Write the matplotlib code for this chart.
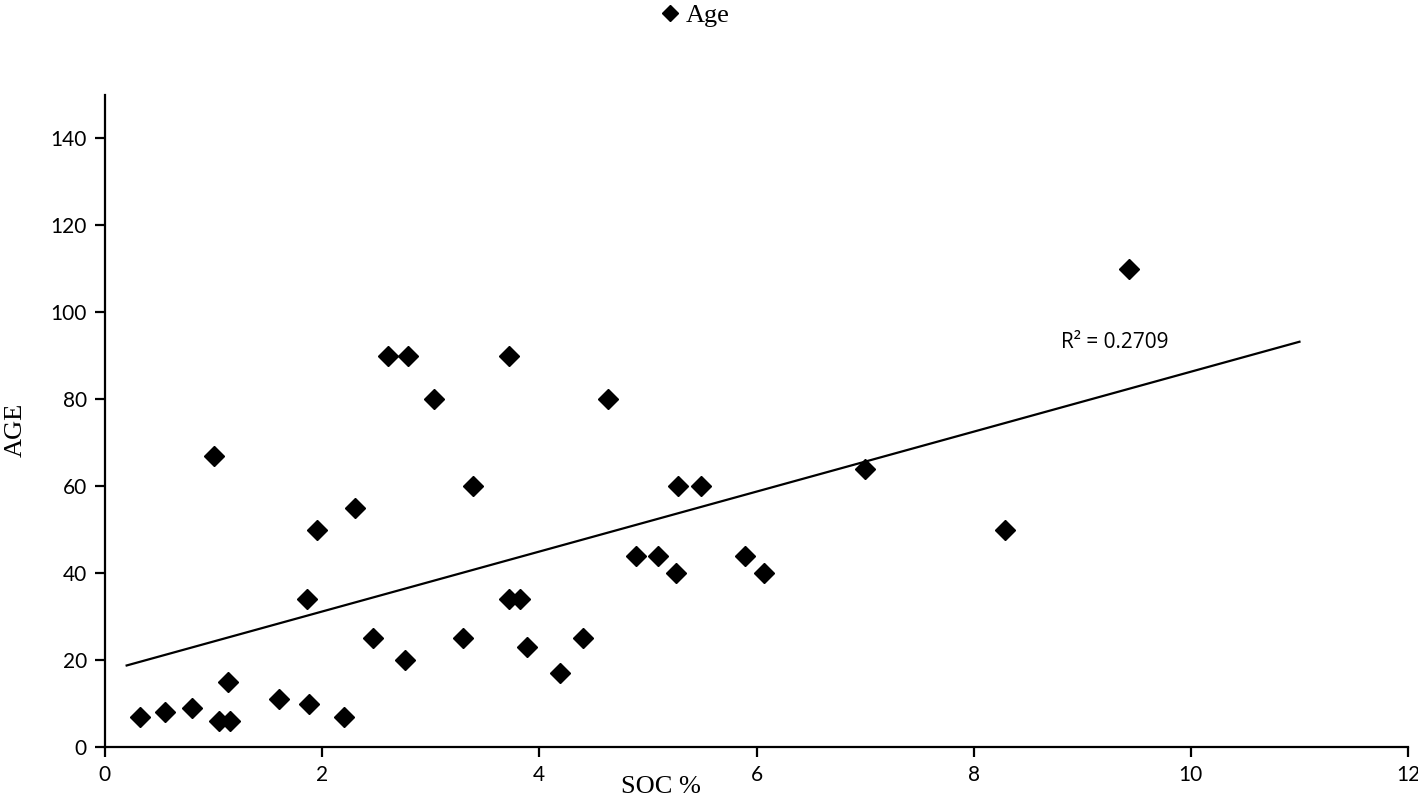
import numpy as np
import matplotlib.pyplot as plt

# SOC % vs Age
soc = [0.32, 0.55, 0.80, 1.00, 1.05, 1.13, 1.15, 1.60, 1.86, 1.88,
       1.95, 2.20, 2.30, 2.47, 2.61, 2.76, 2.79, 3.03, 3.30, 3.39,
       3.72, 3.72, 3.82, 3.89, 4.19, 4.40, 4.63, 4.89, 5.09, 5.26,
       5.28, 5.49, 5.89, 6.07, 7.00, 8.29, 9.43]
age = [7, 8, 9, 67, 6, 15, 6, 11, 34, 10,
       50, 7, 55, 25, 90, 20, 90, 80, 25, 60,
       90, 34, 34, 23, 17, 25, 80, 44, 44, 40,
       60, 60, 44, 40, 64, 50, 110]
trend_x = [0.2, 11.0]
r2_label = "R² = 0.2709"

fig = plt.figure(figsize=(14.18, 8.01), dpi=100)
ax = fig.add_axes([0.074, 0.0674, 0.919, 0.814])

ax.plot(soc, age, linestyle="none", marker="D", ms=10.5, color="black", label="Age")

# linear trendline
slope, intercept = np.polyfit(soc, age, 1)
tx = np.array(trend_x)
ax.plot(tx, slope * tx + intercept, color="black", lw=1.6)
ax.text(8.8, 93, r2_label, fontsize=15, family="Open Sans", va="center")

ax.set_xlim(0, 12)
ax.set_ylim(0, 150)
ax.set_xticks(range(0, 13, 2))
ax.set_yticks(range(0, 141, 20))
for s in ["top", "right"]:
    ax.spines[s].set_visible(False)
for s in ["left", "bottom"]:
    ax.spines[s].set_linewidth(1.6)
ax.tick_params(direction="out", length=7, width=1.6, labelsize=15, pad=6)
for lab in ax.get_xticklabels() + ax.get_yticklabels():
    lab.set_family("Lato")

fig.text(0.466, 0.018, "SOC %", fontsize=19, family="Liberation Serif", ha="center", va="center")
fig.text(0.011, 0.463, "AGE", fontsize=19, family="Liberation Serif", ha="center", va="center",
         rotation=90)

fig.legend(loc="upper center", bbox_to_anchor=(0.488, 1.025), frameon=False, handletextpad=0.0,
           handlelength=1.2, prop={"family": "Liberation Serif", "size": 19}, markerscale=0.8)

plt.savefig("out.png", dpi=100)
